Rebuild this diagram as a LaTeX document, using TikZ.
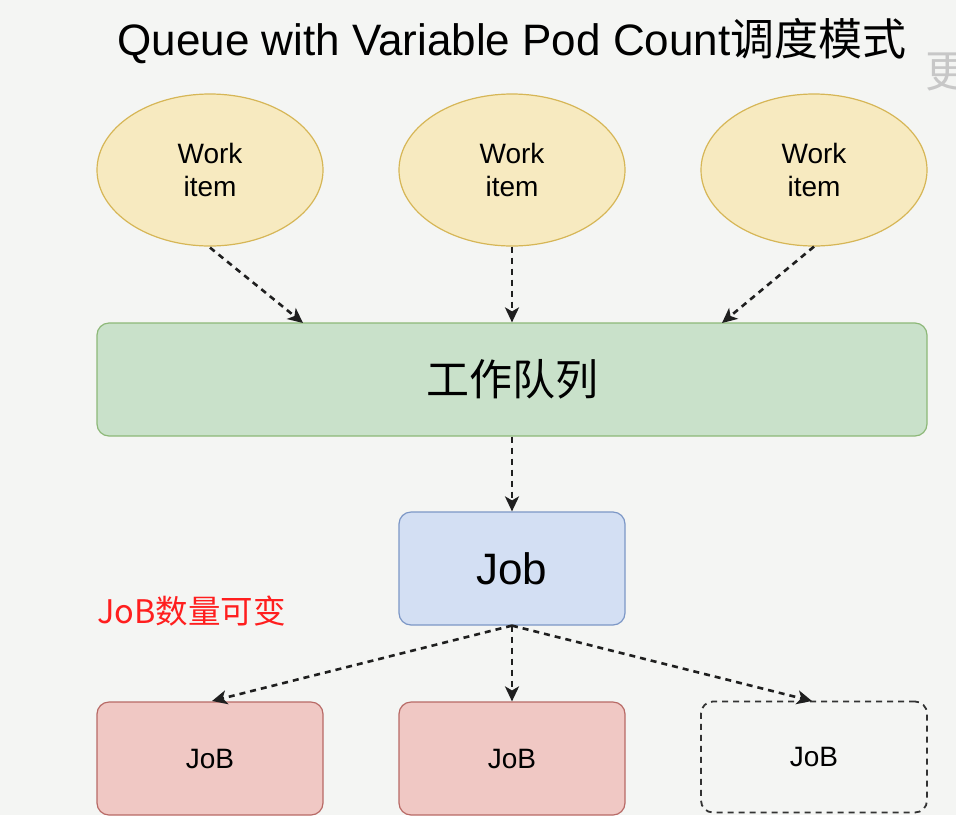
\documentclass[tikz,border=0pt]{standalone}
\usepackage{fontspec}
\setmainfont{Liberation Sans}
\newfontfamily\cjk{Noto Sans CJK SC}
\usetikzlibrary{shapes.geometric,arrows.meta}
\definecolor{bgc}{HTML}{F4F5F3}
\definecolor{yfill}{HTML}{F7EAC0}
\definecolor{ydraw}{HTML}{D6B656}
\definecolor{gfill}{HTML}{C9E1CA}
\definecolor{gdraw}{HTML}{8DB878}
\definecolor{bfill}{HTML}{D3DFF3}
\definecolor{bdraw}{HTML}{7C97C6}
\definecolor{rfill}{HTML}{F0C8C4}
\definecolor{rdraw}{HTML}{B86A66}
\definecolor{redtxt}{HTML}{FF1E1E}
\tikzset{
  item/.style={ellipse, draw=ydraw, fill=yfill, line width=1.2pt, minimum width=226pt, minimum height=152pt, inner sep=0pt, align=center, font=\fontsize{28}{33}\selectfont},
  boxstyle/.style={rounded corners=12pt, line width=1.2pt, minimum width=226pt, minimum height=113pt, inner sep=0pt, align=center},
  flow/.style={line width=2.6pt, dash pattern=on 6pt off 5pt, draw=black!88, -{Stealth[length=15pt,width=14pt,inset=4pt]}},
}
\begin{document}
\begin{tikzpicture}[x=1pt,y=-1pt]
\useasboundingbox (0,0) rectangle (956,815);
\fill[bgc] (0,0) rectangle (956,815);
\node[anchor=center, font=\fontsize{44}{48}\selectfont] (title) at (512,41) {Queue with Variable Pod Count{\cjk 调度模式}};
\node[anchor=west, text=black!22, font=\cjk\fontsize{44}{48}\selectfont, inner sep=0pt] (more) at (925,72) {更};
\node[item] (w1) at (210,170) {\raisebox{-3pt}{Work}\\\raisebox{-3pt}{item}};
\node[item] (w2) at (512,170) {\raisebox{-3pt}{Work}\\\raisebox{-3pt}{item}};
\node[item] (w3) at (814,170) {\raisebox{-3pt}{Work}\\\raisebox{-3pt}{item}};
\node[boxstyle, draw=gdraw, fill=gfill, minimum width=830pt, font=\cjk\fontsize{43}{46}\selectfont] (queue) at (512,379.5) {工作队列};
\node[boxstyle, draw=bdraw, fill=bfill, font=\fontsize{44}{48}\selectfont] (job) at (512,568.5) {Job};
\node[boxstyle, draw=rdraw, fill=rfill, font=\fontsize{28}{32}\selectfont] (j1) at (210,758.5) {JoB};
\node[boxstyle, draw=rdraw, fill=rfill, font=\fontsize{28}{32}\selectfont] (j2) at (512,758.5) {JoB};
\node[boxstyle, draw=black!80, line width=1.8pt, dash pattern=on 6pt off 5pt, minimum height=111pt, font=\fontsize{28}{32}\selectfont] (j3) at (814,757) {JoB};
\node[anchor=west, text=redtxt, font=\cjk\fontsize{32.5}{36}\selectfont, inner sep=0pt] (note) at (97,611) {JoB数量可变};
\coordinate (q1) at (303,323);
\coordinate (q3) at (722,323);
\coordinate (t1) at (212,701);
\coordinate (t3) at (812,701);
\draw[flow] (w1.south) ++(0,1) -- (q1);
\draw[flow] (w2.south) -- (queue.north);
\draw[flow] (w3.south) -- (q3);
\draw[flow] (queue.south) -- (job.north);
\draw[flow] (job.south) -- (t1);
\draw[flow] (job.south) -- (j2.north);
\draw[flow] (job.south) -- (t3);
\end{tikzpicture}
\end{document}
